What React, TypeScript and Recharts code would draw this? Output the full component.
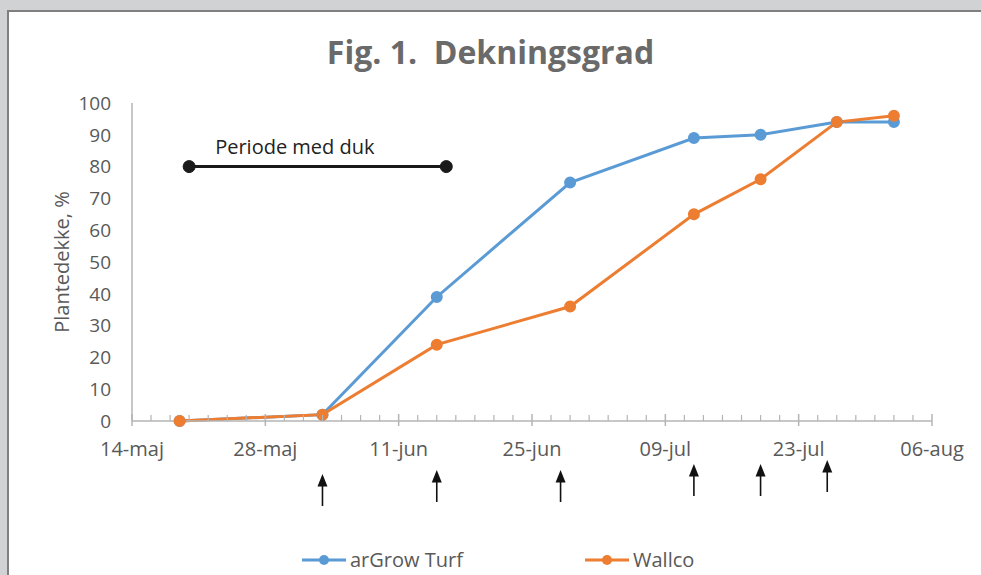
import React from 'react';
import { LineChart, Line, XAxis, YAxis, ReferenceLine, ReferenceDot } from 'recharts';

// ---- data ----
const sampleDates = ['05-19', '06-03', '06-15', '06-29', '07-12', '07-19', '07-27', '08-02'];
const argrowTurf = [0, 2, 39, 75, 89, 90, 94, 94];
const wallco = [0, 2, 24, 36, 65, 76, 94, 96];
const seriesNames = ['arGrow Turf', 'Wallco'];
const seriesColors = ['#5B9BD5', '#ED7D31'];

const axisStartDate = '05-14';
const axisEndDate = '08-06';
const majorTickDates = ['05-14', '05-28', '06-11', '06-25', '07-09', '07-23', '08-06'];
const majorTickLabels = ['14-maj', '28-maj', '11-jun', '25-jun', '09-jul', '23-jul', '06-aug'];
const yTicks = [0, 10, 20, 30, 40, 50, 60, 70, 80, 90, 100];

const dukStart = '05-20';
const dukEnd = '06-16';
const dukLevel = 80;
const dukLabel = 'Periode med duk';

const arrowDates = ['06-03', '06-15', '06-28', '07-12', '07-19', '07-26'];

const title = 'Fig. 1.  Dekningsgrad';
const yLabel = 'Plantedekke, %';

// ---- helpers ----
function dayOf(md: string): number {
  const [m, d] = md.split('-').map(Number);
  const [m0, d0] = axisStartDate.split('-').map(Number);
  return Math.round((Date.UTC(2021, m - 1, d) - Date.UTC(2021, m0 - 1, d0)) / 86400000);
}

const tableData = sampleDates.map((d, i) => ({ day: dayOf(d), a: argrowTurf[i], w: wallco[i] }));
const xMax = dayOf(axisEndDate);
const majorDays = majorTickDates.map(dayOf);
const allTicks: number[] = [];
for (let t = 0; t <= xMax; t += 2) allTicks.push(t);

const FONT = '"Open Sans", sans-serif';
const GRAY_TEXT = '#595959';
const AXIS_GRAY = '#b4b4b4';
const TICK_SIZE = 5;
const TICK_MARGIN = 16;

// arrow vertical staggering (pixels below x-axis), style only
const arrowTopOffsets = [53, 49, 49, 43, 43, 39];
const ARROW_LEN = 32;

const XTick = (props: any) => {
  const { x, y, payload } = props;
  const axisY = y - TICK_SIZE - TICK_MARGIN;
  const idx = majorDays.indexOf(payload.value);
  const isMajor = idx >= 0;
  return (
    <g>
      {isMajor ? (
        <line x1={x} x2={x} y1={axisY - 7} y2={axisY + 5} stroke={AXIS_GRAY} strokeWidth={1.5} />
      ) : (
        <line x1={x} x2={x} y1={axisY - 6} y2={axisY} stroke={AXIS_GRAY} strokeWidth={1.2} />
      )}
      {isMajor && (
        <text x={x} y={y} dy="0.71em" textAnchor="middle" fill={GRAY_TEXT} fontSize={20} fontFamily={FONT}>
          {majorTickLabels[idx]}
        </text>
      )}
    </g>
  );
};

const makeArrow = (i: number) => (props: any) => {
  const { cx, cy } = props;
  const top = cy + arrowTopOffsets[i];
  return (
    <g>
      <line x1={cx} x2={cx} y1={top + 10} y2={top + ARROW_LEN} stroke="#111" strokeWidth={1.6} />
      <polygon points={`${cx - 5},${top + 12.5} ${cx + 5},${top + 12.5} ${cx},${top}`} fill="#111" />
    </g>
  );
};

const DukLabel = (props: any) => {
  const vb = props.viewBox || {};
  const x = vb.x ?? 0;
  const y = vb.y ?? 0;
  return (
    <text x={x + 26} y={y - 13} fill="#222" fontSize={20} fontFamily={FONT}>
      {dukLabel}
    </text>
  );
};

const LegendItem = ({ left, color, name }: { left: number; color: string; name: string }) => (
  <div style={{ position: 'absolute', left, top: 548, height: 24, display: 'flex', alignItems: 'center' }}>
    <svg width={44} height={24} style={{ display: 'block' }}>
      <line x1={0} x2={44} y1={12} y2={12} stroke={color} strokeWidth={3} />
      <circle cx={22} cy={12} r={5} fill={color} />
    </svg>
    <span style={{ marginLeft: 4, fontFamily: FONT, fontSize: 20, color: GRAY_TEXT, lineHeight: '24px' }}>{name}</span>
  </div>
);

export default function App() {
  return (
    <div style={{ position: 'absolute', left: 0, top: 0, width: 981, height: 575, background: '#d1d2d4', overflow: 'hidden' }}>
      <div
        style={{
          position: 'absolute',
          left: 7,
          top: 10,
          width: 981 - 7,
          height: 575 - 10,
          background: '#ffffff',
          borderLeft: '2px solid #7f7f7f',
          borderTop: '2px solid #7f7f7f',
          boxSizing: 'border-box',
        }}
      />
      <div
        style={{
          position: 'absolute',
          left: 0,
          width: 981,
          top: 30,
          textAlign: 'center',
          fontFamily: FONT,
          fontWeight: 700,
          fontSize: 32,
          lineHeight: '44px',
          color: '#6a6a6a',
          whiteSpace: 'pre',
        }}
      >
        {title}
      </div>
      <div style={{ position: 'absolute', left: 0, top: 0 }}>
        <LineChart width={981} height={575} data={tableData} margin={{ top: 103, right: 49, bottom: 124, left: 0 }}>
          <XAxis
            dataKey="day"
            type="number"
            domain={[0, xMax]}
            ticks={allTicks}
            interval={0}
            height={30}
            tickSize={TICK_SIZE}
            tickMargin={TICK_MARGIN}
            tickLine={false}
            tick={XTick}
            axisLine={{ stroke: AXIS_GRAY, strokeWidth: 1.5 }}
          />
          <YAxis
            type="number"
            domain={[0, 100]}
            ticks={yTicks}
            interval={0}
            width={132}
            tickLine={false}
            tickSize={0}
            tickMargin={21}
            axisLine={{ stroke: AXIS_GRAY, strokeWidth: 1.5 }}
            tick={{ fill: GRAY_TEXT, fontSize: 19, fontFamily: FONT }}
            label={(p: any) => (
              <text
                x={61}
                y={262}
                transform="rotate(-90, 61, 262)"
                textAnchor="middle"
                dominantBaseline="central"
                fill={GRAY_TEXT}
                fontSize={20}
                fontFamily={FONT}
              >
                {yLabel}
              </text>
            )}
          />
          <ReferenceLine
            segment={[
              { x: dayOf(dukStart), y: dukLevel },
              { x: dayOf(dukEnd), y: dukLevel },
            ]}
            stroke="#1a1a1a"
            strokeWidth={3}
            ifOverflow="visible"
            label={DukLabel}
          />
          <ReferenceDot x={dayOf(dukStart)} y={dukLevel} r={6} fill="#1a1a1a" stroke="#1a1a1a" ifOverflow="visible" />
          <ReferenceDot x={dayOf(dukEnd)} y={dukLevel} r={6} fill="#1a1a1a" stroke="#1a1a1a" ifOverflow="visible" />
          {arrowDates.map((d, i) => (
            <ReferenceDot key={d} x={dayOf(d)} y={0} ifOverflow="visible" shape={makeArrow(i)} />
          ))}
          <Line
            dataKey="a"
            name={seriesNames[0]}
            stroke={seriesColors[0]}
            strokeWidth={3}
            dot={{ r: 5, fill: seriesColors[0], stroke: seriesColors[0], strokeWidth: 2 }}
            isAnimationActive={false}
          />
          <Line
            dataKey="w"
            name={seriesNames[1]}
            stroke={seriesColors[1]}
            strokeWidth={3}
            dot={{ r: 5, fill: seriesColors[1], stroke: seriesColors[1], strokeWidth: 2 }}
            isAnimationActive={false}
          />
        </LineChart>
      </div>
      <LegendItem left={302} color={seriesColors[0]} name={seriesNames[0]} />
      <LegendItem left={585} color={seriesColors[1]} name={seriesNames[1]} />
    </div>
  );
}
